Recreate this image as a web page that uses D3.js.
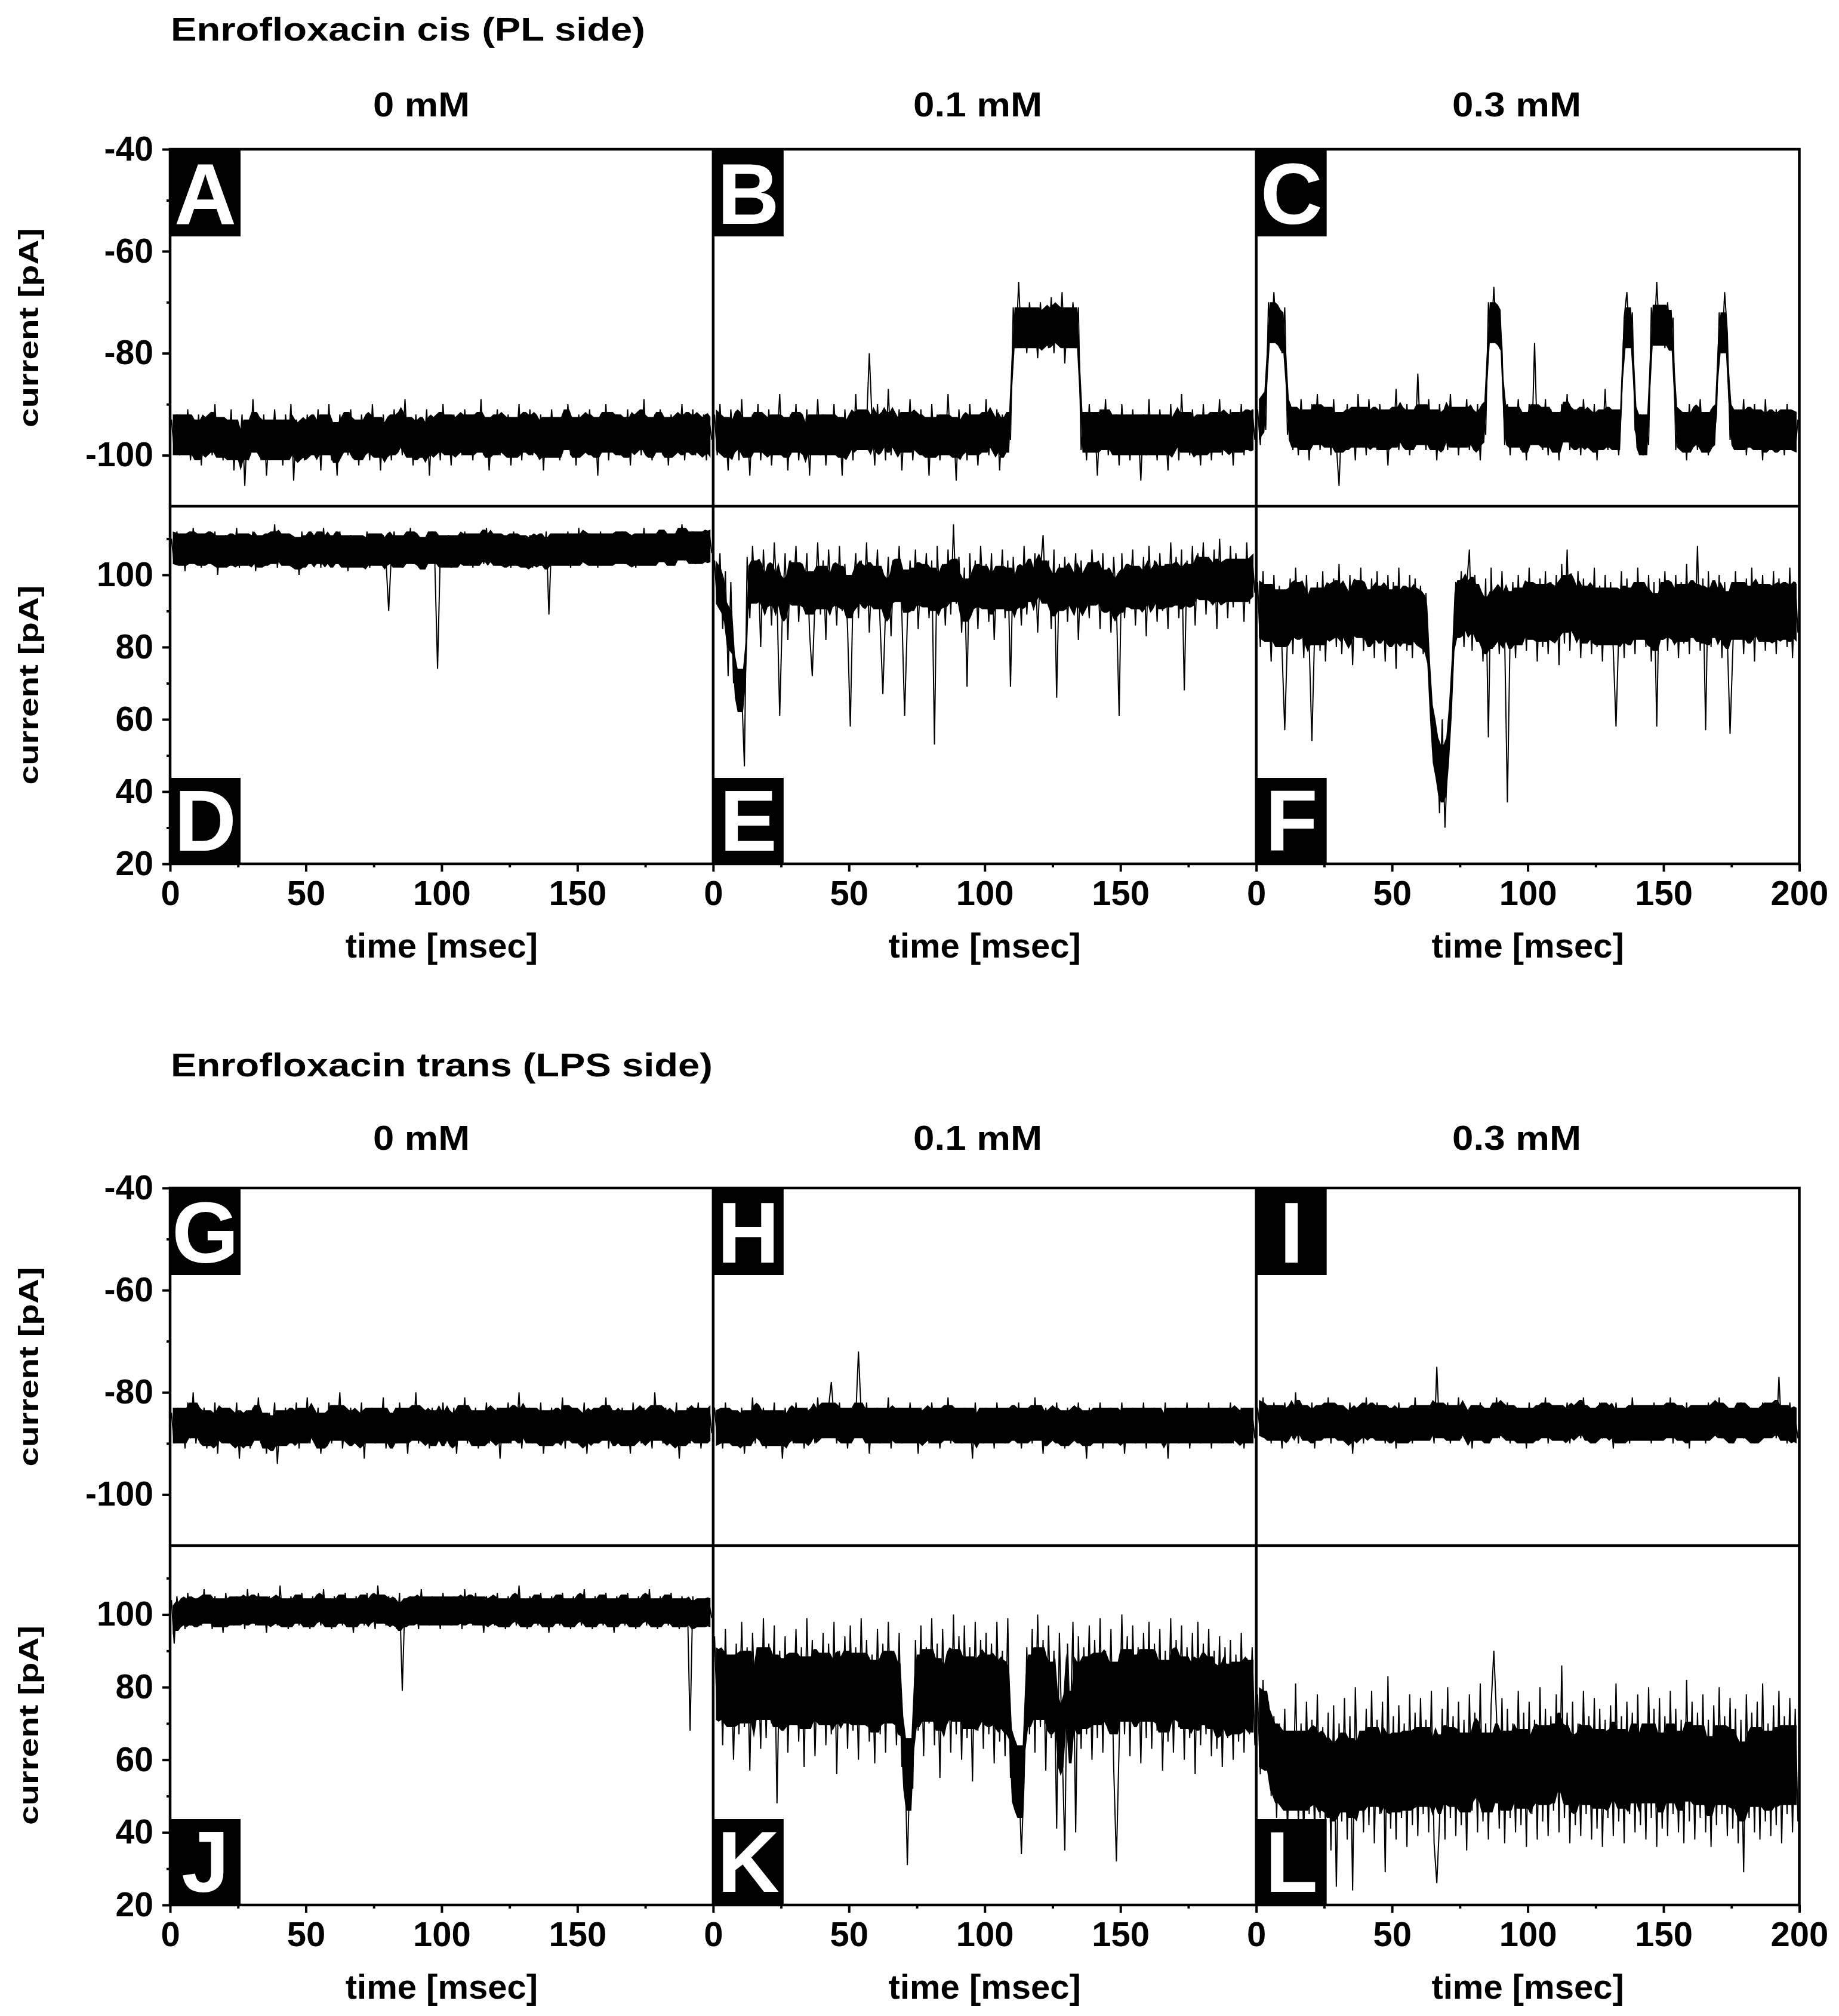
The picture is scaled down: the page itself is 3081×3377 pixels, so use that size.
<!DOCTYPE html>
<html><head><meta charset="utf-8">
<script src="https://cdn.jsdelivr.net/npm/d3@7"></script>
<style>body{margin:0;background:#fff}svg{display:block}</style>
</head><body>
<svg id="c" width="3081" height="3377"></svg>
<script>
// ---------------- data ----------------
const blockTitles = ["Enrofloxacin cis (PL side)", "Enrofloxacin trans (LPS side)"];
const concentrations = ["0 mM", "0.1 mM", "0.3 mM"];
const panelLetters = [["A","B","C"],["D","E","F"],["G","H","I"],["J","K","L"]];
const topTicks = [-40, -60, -80, -100];
const topMinorTicks = [-50, -70, -90];
const bottomTicks = [20, 40, 60, 80, 100];
const bottomMinorTicks = [30, 50, 70, 90, 110];
const timeTicks = [0, 50, 100, 150, 200];
const timeMinorTicks = [25, 75, 125, 175];
const yAxisLabel = "current [pA]";
const xAxisLabel = "time [msec]";
const sampleStepMs = 1; // one value per msec
// half-width (pA) of the dense noise core of each trace, rows A-C, D-F, G-I, J-L
const noiseCoreHalfWidth = [[4, 4, 4], [4.5, 6, 8], [3.5, 3.5, 3.5], [4, 10, 11]];

// cis, top row (negative voltage)
const traceA = [-93,-99,-92,-100,-94,-98,-91,-101,-95,-99,-92,-102,-94,-98,-93,-100,-90,-99,-94,-101,
-93,-98,-91,-103,-95,-99,-92,-106,-94,-100,-89,-98,-93,-101,-92,-104,-95,-99,-91,-100,
-94,-102,-92,-98,-90,-105,-93,-99,-95,-101,-92,-100,-94,-98,-91,-103,-93,-99,-90,-101,
-94,-104,-92,-98,-93,-100,-91,-99,-95,-102,-92,-98,-94,-101,-90,-100,-93,-103,-92,-99,
-94,-101,-91,-98,-93,-100,-89,-99,-94,-102,-92,-100,-95,-98,-91,-104,-93,-99,-92,-101,
-90,-98,-94,-102,-92,-99,-93,-100,-91,-98,-94,-101,-92,-99,-89,-100,-93,-103,-94,-98,
-91,-100,-93,-99,-92,-102,-95,-98,-90,-101,-93,-99,-91,-100,-94,-98,-92,-103,-93,-100,
-91,-99,-94,-101,-92,-98,-90,-100,-93,-102,-92,-99,-94,-98,-91,-100,-93,-104,-92,-99,
-90,-101,-93,-98,-92,-100,-94,-99,-91,-102,-93,-98,-92,-100,-89,-99,-94,-101,-92,-98,
-91,-100,-93,-102,-92,-99,-94,-98,-90,-101,-93,-99,-91,-100,-94,-98,-92,-101,-93,-97];
const traceB = [-92,-100,-90,-99,-94,-103,-91,-98,-93,-101,-89,-99,-94,-104,-92,-98,-90,-101,-93,-99,
-91,-102,-94,-98,-88,-100,-93,-103,-92,-99,-90,-101,-94,-98,-91,-104,-93,-99,-89,-100,
-92,-102,-94,-98,-90,-100,-93,-104,-91,-99,-93,-101,-88,-99,-92,-98,-94,-80,-93,-102,
-90,-99,-92,-101,-87,-100,-93,-98,-91,-103,-92,-99,-89,-101,-94,-98,-91,-100,-93,-104,
-90,-99,-92,-101,-94,-98,-88,-100,-93,-105,-91,-99,-93,-101,-90,-98,-94,-102,-92,-99,
-89,-100,-93,-98,-91,-103,-92,-99,-94,-97,-71,-79,-66,-78,-72,-80,-70,-77,-73,-81,
-70,-78,-72,-79,-69,-80,-71,-77,-68,-82,-72,-78,-70,-79,-71,-99,-92,-101,-90,-98,
-93,-104,-91,-99,-89,-100,-94,-98,-92,-102,-90,-99,-93,-101,-91,-98,-94,-105,-92,-100,
-89,-99,-93,-101,-91,-98,-94,-103,-90,-99,-92,-101,-88,-98,-93,-100,-91,-99,-94,-102,
-90,-99,-92,-101,-93,-98,-89,-100,-92,-99,-91,-102,-93,-98,-90,-100,-92,-99,-91,-97];
const traceC = [-91,-98,-88,-95,-70,-78,-68,-77,-72,-80,-71,-96,-90,-99,-92,-100,-89,-97,-93,-101,
-90,-98,-88,-99,-92,-97,-91,-100,-89,-98,-106,-92,-99,-90,-97,-93,-101,-88,-98,-91,
-100,-89,-98,-92,-99,-90,-97,-93,-102,-91,-98,-87,-99,-92,-97,-90,-100,-93,-98,-84,
-97,-91,-99,-89,-98,-92,-101,-90,-97,-93,-99,-88,-98,-91,-100,-92,-97,-89,-99,-92,
-98,-90,-101,-91,-96,-70,-78,-67,-77,-72,-79,-98,-90,-100,-92,-97,-89,-99,-93,-101,
-90,-98,-78,-97,-92,-99,-89,-100,-91,-98,-93,-101,-90,-97,-88,-99,-92,-98,-91,-100,
-89,-97,-93,-99,-90,-101,-92,-98,-87,-99,-91,-98,-93,-100,-90,-73,-68,-78,-72,-95,
-97,-92,-100,-94,-98,-71,-78,-66,-77,-72,-79,-70,-78,-73,-99,-91,-98,-93,-101,-90,
-97,-92,-99,-89,-98,-93,-100,-91,-97,-92,-72,-80,-68,-76,-97,-91,-99,-92,-98,-89,
-100,-93,-97,-90,-99,-92,-101,-89,-98,-93,-99,-91,-97,-94,-100,-90,-98,-92,-99,-93];
// cis, bottom row (positive voltage)
const traceD = [110,103,112,105,109,101,111,104,113,106,108,102,111,104,110,105,112,100,109,104,
111,103,108,105,113,102,110,104,109,106,112,101,110,105,108,103,111,104,114,102,
109,105,111,103,110,104,108,100,112,105,110,103,109,106,111,102,113,104,108,105,
110,103,112,104,109,101,111,105,110,103,108,104,112,102,110,105,109,103,111,104,
90,106,112,104,109,102,110,105,113,103,111,104,108,102,110,105,112,103,74,106,
109,104,111,102,110,105,108,103,112,104,110,102,109,105,111,103,113,104,108,106,
111,103,110,104,109,102,112,105,110,103,108,104,111,102,110,105,109,103,112,89,
110,104,111,103,109,105,112,102,110,104,113,103,109,105,111,104,110,102,112,105,
109,103,111,104,110,106,112,103,109,105,111,102,110,104,113,105,109,103,111,106,
110,104,112,105,109,103,111,106,114,104,110,105,112,103,111,106,109,104,112,106];
const traceE = [104,92,106,85,101,72,98,70,74,62,68,47,105,88,108,93,104,80,107,91,
103,86,109,94,61,90,106,82,104,95,108,87,102,92,106,84,72,93,109,89,
104,82,107,94,101,86,108,90,103,85,58,95,106,88,104,92,109,84,102,93,
107,86,67,91,105,83,103,94,108,89,61,87,104,92,107,85,102,93,106,88,
104,53,108,91,103,86,107,89,114,92,105,84,102,69,106,90,104,85,108,93,
103,87,106,82,101,92,107,88,104,69,105,91,102,86,108,89,103,94,106,84,
101,111,92,104,85,107,66,103,90,105,87,102,93,106,82,104,91,101,88,107,
93,103,85,106,90,102,84,105,92,61,106,88,103,94,107,86,102,91,105,83,
108,92,104,87,106,90,103,85,109,93,105,88,107,68,104,91,108,86,106,94,
109,89,105,92,107,85,110,93,104,88,108,91,106,94,103,87,109,92,105,95];
const traceF = [98,80,101,84,95,76,100,82,97,79,57,83,99,78,102,85,96,77,100,81,
54,84,98,79,101,76,97,83,99,80,103,78,96,82,100,75,98,84,102,79,
95,81,99,77,101,83,97,76,100,80,98,74,102,82,96,79,100,77,99,83,
97,78,95,72,64,48,56,34,60,30,50,62,76,98,84,101,80,97,107,79,
100,83,96,76,99,55,102,80,97,78,101,82,37,84,98,77,100,81,96,79,
102,83,97,76,99,80,101,78,98,82,100,75,103,81,107,79,98,84,101,77,
99,82,96,78,102,80,97,76,100,83,98,79,58,84,101,77,99,81,96,78,
102,83,97,80,100,76,98,58,99,82,101,79,97,84,100,77,98,81,103,78,
96,83,108,79,99,57,101,80,97,84,100,77,98,82,56,79,101,83,97,78,
99,81,102,76,98,84,100,79,96,82,101,78,99,83,97,80,102,77,98,84];
// trans, top row
const traceG = [-84,-90,-83,-88,-85,-91,-82,-89,-80,-90,-85,-88,-83,-91,-86,-89,-82,-92,-84,-88,
-83,-90,-85,-89,-82,-93,-84,-88,-86,-91,-83,-89,-81,-90,-85,-92,-84,-88,-82,-94,
-85,-89,-83,-90,-86,-88,-82,-91,-84,-89,-81,-90,-85,-88,-83,-92,-86,-89,-82,-90,
-84,-88,-80,-91,-85,-89,-83,-90,-86,-88,-82,-93,-84,-89,-83,-90,-85,-88,-81,-91,
-84,-89,-86,-90,-82,-88,-85,-92,-83,-89,-80,-90,-84,-88,-85,-91,-83,-89,-86,-88,
-82,-90,-85,-89,-83,-92,-84,-88,-81,-90,-85,-89,-83,-91,-86,-88,-82,-90,-84,-89,
-83,-93,-85,-88,-82,-90,-84,-89,-80,-91,-85,-88,-83,-90,-84,-89,-82,-92,-86,-88,
-83,-90,-85,-89,-81,-91,-84,-88,-83,-90,-86,-89,-82,-92,-84,-88,-85,-90,-83,-89,
-81,-91,-84,-88,-86,-90,-83,-89,-85,-92,-82,-88,-84,-90,-83,-89,-85,-91,-80,-88,
-84,-90,-83,-89,-86,-88,-82,-93,-85,-89,-83,-90,-84,-88,-82,-91,-85,-89,-83,-88];
const traceH = [-83,-89,-85,-91,-82,-88,-84,-90,-86,-88,-83,-92,-85,-89,-81,-90,-84,-88,-83,-91,
-85,-89,-82,-90,-84,-93,-83,-88,-85,-90,-82,-89,-84,-91,-83,-88,-85,-90,-81,-89,
-84,-88,-83,-78,-85,-90,-82,-89,-84,-91,-83,-88,-85,-72,-84,-89,-82,-92,-85,-88,
-83,-90,-84,-89,-81,-91,-85,-88,-83,-90,-84,-89,-82,-88,-85,-92,-83,-89,-84,-90,
-82,-88,-85,-91,-83,-89,-81,-90,-84,-88,-85,-90,-83,-89,-84,-93,-82,-88,-85,-90,
-83,-89,-84,-91,-82,-88,-85,-90,-83,-89,-84,-88,-82,-91,-85,-89,-83,-90,-81,-88,
-84,-92,-83,-89,-85,-88,-82,-90,-84,-91,-83,-89,-85,-88,-82,-90,-84,-93,-83,-89,
-85,-88,-82,-91,-84,-89,-83,-90,-85,-88,-82,-92,-84,-89,-83,-90,-85,-88,-82,-91,
-84,-89,-83,-90,-85,-88,-82,-93,-84,-89,-83,-90,-85,-88,-82,-91,-84,-89,-83,-90,
-85,-88,-82,-91,-84,-89,-83,-90,-85,-88,-82,-90,-84,-89,-83,-91,-85,-88,-84,-89];
const traceI = [-83,-88,-81,-89,-84,-90,-82,-87,-85,-91,-82,-88,-84,-89,-80,-90,-83,-87,-85,-89,
-82,-91,-84,-88,-83,-89,-81,-90,-84,-87,-83,-89,-85,-88,-82,-92,-84,-88,-83,-90,
-81,-88,-84,-89,-82,-87,-85,-90,-83,-88,-84,-91,-82,-88,-85,-89,-83,-90,-81,-88,
-84,-89,-83,-87,-85,-90,-75,-88,-83,-89,-82,-90,-84,-88,-81,-89,-85,-87,-83,-91,
-84,-88,-82,-89,-85,-90,-83,-88,-81,-89,-84,-87,-82,-90,-85,-88,-83,-89,-84,-91,
-82,-88,-85,-89,-83,-87,-81,-90,-84,-88,-83,-89,-85,-88,-82,-90,-84,-87,-83,-89,
-81,-88,-84,-90,-85,-88,-82,-89,-83,-87,-84,-91,-82,-88,-85,-89,-83,-90,-81,-88,
-84,-89,-83,-87,-85,-90,-82,-88,-84,-89,-83,-88,-81,-90,-84,-87,-85,-89,-82,-91,
-84,-88,-83,-89,-85,-90,-82,-87,-84,-88,-81,-89,-83,-88,-85,-90,-84,-87,-82,-89,
-84,-88,-83,-90,-85,-89,-82,-88,-84,-87,-83,-89,-77,-88,-84,-90,-82,-88,-85,-89];
// trans, bottom row
const traceJ = [104,92,105,98,103,96,106,97,104,98,103,97,107,99,104,96,105,98,103,95,
106,98,104,97,105,99,103,96,107,98,104,97,106,99,103,95,105,98,104,97,
108,98,103,96,105,99,104,97,106,98,103,96,105,99,104,97,107,98,103,96,
105,99,104,97,106,98,103,95,105,99,104,97,106,98,103,96,108,99,104,97,
105,98,103,96,106,79,104,97,105,99,103,96,107,98,104,97,105,99,103,96,
106,98,104,97,105,99,103,96,107,98,104,97,106,99,103,95,105,98,104,97,
106,98,103,96,105,99,104,97,108,98,103,96,105,99,104,97,106,98,103,95,
105,99,104,97,106,98,103,96,105,99,104,97,107,98,103,96,105,99,104,97,
106,98,103,95,105,99,104,97,106,98,103,96,105,99,104,97,107,98,103,96,
105,99,104,97,106,98,103,96,105,99,104,68,105,97,103,98,104,97,103,99];
const traceK = [94,72,90,64,96,70,88,60,92,67,98,69,91,57,95,73,89,63,99,66,
92,70,97,48,90,68,94,62,88,71,96,65,91,58,99,69,93,61,89,72,
95,64,92,67,98,56,90,70,94,63,97,68,91,60,99,71,93,65,89,59,
96,67,92,62,98,70,90,64,95,58,66,31,60,52,93,68,97,61,91,70,
99,64,92,55,96,69,90,62,100,67,94,60,97,66,91,54,98,68,93,63,
95,67,92,59,98,65,90,61,99,55,62,50,58,34,54,91,67,96,62,100,
69,93,57,97,66,90,41,95,64,35,92,68,98,40,94,63,91,67,97,60,
93,66,99,62,90,68,96,58,32,64,100,67,94,61,97,70,91,59,95,66,
98,63,92,68,96,57,90,65,99,62,93,69,97,60,91,66,95,56,98,64,
92,67,96,61,90,63,94,58,91,66,93,60,89,65,95,62,88,67,91,64];
const traceL = [78,56,82,60,76,50,72,44,70,48,74,40,68,46,81,42,70,38,76,45,
71,39,78,44,69,41,73,35,75,25,70,43,77,38,72,24,80,46,68,40,
74,42,79,37,71,45,76,29,83,41,72,38,75,44,70,36,78,42,73,39,
77,45,71,40,79,37,26,43,74,38,80,44,72,39,76,42,71,35,78,46,
73,40,81,43,70,38,75,90,72,41,77,37,74,44,70,40,79,42,73,36,
76,45,71,38,80,43,74,39,72,46,78,40,86,44,73,37,76,42,70,39,
79,45,72,38,77,41,74,36,71,44,75,39,81,43,72,37,76,45,73,40,
78,42,70,38,80,44,74,36,77,41,72,39,79,45,74,40,71,37,82,43,
76,38,73,44,78,40,71,36,75,42,80,45,72,39,77,41,74,37,71,29,
78,44,73,40,76,38,81,43,70,39,75,42,79,37,72,45,77,40,74,43];

// ---------------- drawing ----------------
const FONT = "'Liberation Sans', Arial, Helvetica, sans-serif";
const svg = d3.select("#c");
const L = 285, R = 3014.5, PW = (R - L) / 3;
const headerX = [706, 1638, 2541];

const blocks = [
  {title: blockTitles[0], titleY: 68, titleLen: 795, headerY: 195, top: 250, mid: 848, bot: 1447,
   traces: [[traceA, traceB, traceC], [traceD, traceE, traceF]], letters: [panelLetters[0], panelLetters[1]]},
  {title: blockTitles[1], titleY: 1803, titleLen: 908, headerY: 1926, top: 1990, mid: 2589, bot: 3191,
   traces: [[traceG, traceH, traceI], [traceJ, traceK, traceL]], letters: [panelLetters[2], panelLetters[3]]}
];

function styleAxis(g, size) {
  g.attr("font-family", FONT).attr("font-size", size).attr("font-weight", "bold");
  g.select(".domain").remove();
  g.selectAll("line").attr("stroke", "#000").attr("stroke-width", 4);
  g.selectAll("text").attr("fill", "#000");
}

// local centre of a trace: midpoints of neighbouring samples, then a running median
function traceCentre(data) {
  const mids = d3.range(data.length - 1).map(k => (data[k] + data[k + 1]) / 2);
  return mids.map((m, k) => ({
    t: (k + 1) * sampleStepMs,
    m: d3.median(mids.slice(Math.max(0, k - 2), Math.min(mids.length, k + 3)))
  }));
}

blocks.forEach((b, bi) => {
  const g = svg.append("g");
  const yScales = [
    d3.scaleLinear().domain([-110, -40]).range([b.mid, b.top]),
    d3.scaleLinear().domain([20, 119]).range([b.bot, b.mid])
  ];
  const rowTop = [b.top, b.mid], rowBot = [b.mid, b.bot];

  // block title
  g.append("text").attr("x", 286).attr("y", b.titleY).text(b.title)
    .attr("font-family", FONT).attr("font-weight", "bold").attr("font-size", 56)
    .attr("textLength", b.titleLen).attr("lengthAdjust", "spacingAndGlyphs");

  // concentration headers
  concentrations.forEach((c, j) => {
    g.append("text").attr("x", headerX[j]).attr("y", b.headerY).attr("text-anchor", "middle")
      .attr("font-family", FONT).attr("font-weight", "bold").attr("font-size", 58)
      .attr("textLength", j === 0 ? 162 : 216).attr("lengthAdjust", "spacingAndGlyphs").text(c);
  });

  // traces: dense noise core + the sampled trace itself
  for (let r = 0; r < 2; r++) {
    for (let j = 0; j < 3; j++) {
      const x = d3.scaleLinear().domain([0, 200]).range([L + j * PW, L + (j + 1) * PW]);
      const y = yScales[r];
      const data = b.traces[r][j];
      const id = `clip${bi}${r}${j}`;
      svg.append("clipPath").attr("id", id).append("rect")
        .attr("x", L + j * PW).attr("y", rowTop[r]).attr("width", PW).attr("height", rowBot[r] - rowTop[r]);
      const hw = noiseCoreHalfWidth[bi * 2 + r][j];
      const area = d3.area().x(d => x(d.t)).y0(d => y(d.m - hw)).y1(d => y(d.m + hw));
      g.append("path").attr("clip-path", `url(#${id})`).attr("d", area(traceCentre(data)))
        .attr("fill", "#000").attr("stroke", "none");
      const line = d3.line().x((d, i) => x((i + 0.5) * sampleStepMs)).y(d => y(d));
      g.append("path").attr("clip-path", `url(#${id})`)
        .attr("d", line(data))
        .attr("fill", "none").attr("stroke", "#000").attr("stroke-width", 2);
    }
  }

  // frame
  g.append("rect").attr("x", L).attr("y", b.top).attr("width", R - L).attr("height", b.bot - b.top)
    .attr("fill", "none").attr("stroke", "#000").attr("stroke-width", 4.5);
  g.append("line").attr("x1", L).attr("x2", R).attr("y1", b.mid).attr("y2", b.mid)
    .attr("stroke", "#000").attr("stroke-width", 4.5);
  for (let j = 1; j < 3; j++) {
    g.append("line").attr("x1", L + j * PW).attr("x2", L + j * PW).attr("y1", b.top).attr("y2", b.bot)
      .attr("stroke", "#000").attr("stroke-width", 4.5);
  }

  // panel letters
  for (let r = 0; r < 2; r++) {
    for (let j = 0; j < 3; j++) {
      const bx = L + j * PW;
      const by = r === 0 ? b.top : b.bot - 144;
      g.append("rect").attr("x", bx).attr("y", by).attr("width", 118).attr("height", r === 0 ? 146 : 144).attr("fill", "#000");
      g.append("text").attr("x", bx + 59).attr("y", by + (r === 0 ? 125 : 122)).attr("text-anchor", "middle")
        .attr("font-family", FONT).attr("font-weight", "bold").attr("font-size", 144).attr("fill", "#fff")
        .text(b.letters[r][j]);
    }
  }

  // y axes
  const fmt = d => String(d);
  const a1 = g.append("g").attr("transform", `translate(${L},0)`)
    .call(d3.axisLeft(yScales[0]).tickValues(topTicks).tickSize(13).tickPadding(15).tickFormat(fmt));
  styleAxis(a1, 57);
  const a1m = g.append("g").attr("transform", `translate(${L},0)`)
    .call(d3.axisLeft(yScales[0]).tickValues(topMinorTicks).tickSize(6).tickFormat(""));
  styleAxis(a1m, 57);
  const a2 = g.append("g").attr("transform", `translate(${L},0)`)
    .call(d3.axisLeft(yScales[1]).tickValues(bottomTicks).tickSize(13).tickPadding(15).tickFormat(fmt));
  styleAxis(a2, 57);
  const a2m = g.append("g").attr("transform", `translate(${L},0)`)
    .call(d3.axisLeft(yScales[1]).tickValues(bottomMinorTicks).tickSize(6).tickFormat(""));
  styleAxis(a2m, 57);

  // y axis labels
  for (let r = 0; r < 2; r++) {
    g.append("text").attr("transform", `translate(64,${(rowTop[r] + rowBot[r]) / 2}) rotate(-90)`)
      .attr("text-anchor", "middle").attr("font-family", FONT).attr("font-weight", "bold")
      .attr("font-size", 47).attr("textLength", 334).attr("lengthAdjust", "spacingAndGlyphs").text(yAxisLabel);
  }

  // x axes
  for (let j = 0; j < 3; j++) {
    const x = d3.scaleLinear().domain([0, 200]).range([L + j * PW, L + (j + 1) * PW]);
    const vals = j < 2 ? timeTicks.slice(0, 4) : timeTicks;
    const ax = g.append("g").attr("transform", `translate(0,${b.bot})`)
      .call(d3.axisBottom(x).tickValues(vals).tickSize(13).tickPadding(15).tickFormat(fmt));
    styleAxis(ax, 58);
    const axm = g.append("g").attr("transform", `translate(0,${b.bot})`)
      .call(d3.axisBottom(x).tickValues(timeMinorTicks).tickSize(6).tickFormat(""));
    styleAxis(axm, 58);
    g.append("text").attr("x", L + (j + 0.5) * PW).attr("y", b.bot + 157).attr("text-anchor", "middle")
      .attr("font-family", FONT).attr("font-weight", "bold").attr("font-size", 58).text(xAxisLabel);
  }
});
</script>
</body></html>
